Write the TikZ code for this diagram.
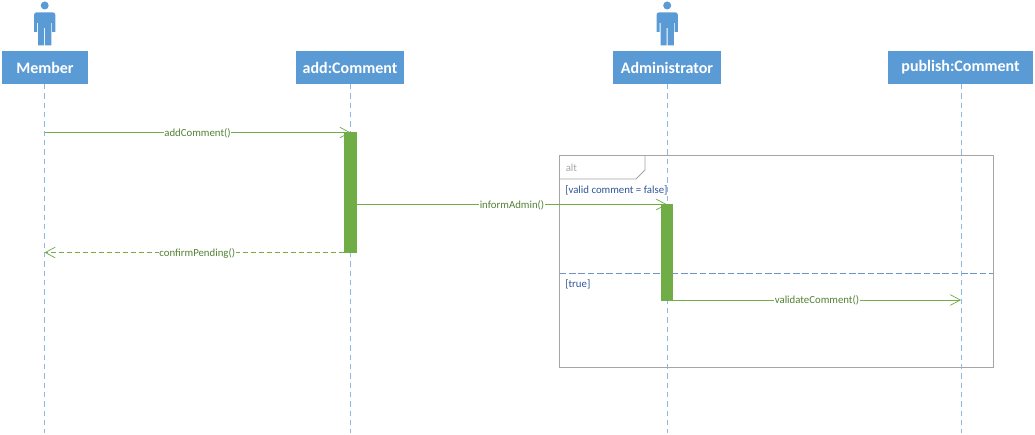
\documentclass[tikz,border=0pt]{standalone}
\usepackage{fontspec}
\setmainfont{Carlito}
\usetikzlibrary{arrows.meta}
\definecolor{hdr}{HTML}{5B9BD5}
\definecolor{life}{HTML}{8DB8E2}
\definecolor{divd}{HTML}{6C94C8}
\definecolor{grn}{HTML}{70AD47}
\definecolor{grntxt}{HTML}{538135}
\definecolor{guard}{HTML}{2F5597}
\definecolor{frm}{HTML}{A5A5A5}
\tikzset{
 x=0.75pt,y=-0.75pt,
 party/.style={fill=hdr,draw=none,text=white,font=\fontsize{12pt}{14pt}\selectfont\bfseries,minimum height=24.75pt,inner sep=0pt,anchor=center},
 lifeline/.style={draw=life,line width=0.6pt,dash pattern=on 4pt off 3pt},
 bar/.style={fill=grn,draw=none,inner sep=0pt,minimum width=9.4pt},
 msg/.style={draw=grn,line width=0.7pt,-{Straight Barb[length=7.5pt,width=8pt,line width=0.55pt]}},
 rmsg/.style={msg,dash pattern=on 3.5pt off 2.5pt},
 mlabel/.style={fill=white,text=grntxt,font=\fontsize{8.1pt}{9pt}\selectfont,inner sep=0.5pt,yshift=-0.5pt},
 guardtext/.style={text=guard,font=\fontsize{8.1pt}{9pt}\selectfont,inner sep=0pt,anchor=west},
 frametext/.style={text=frm,font=\fontsize{8.1pt}{9pt}\selectfont,inner sep=0pt,anchor=west},
 frameline/.style={draw=frm,line width=0.75pt},
 actor/.pic={
  \fill[hdr] (0,-40.5) circle (4);
  \fill[hdr] (-10.7,-31) arc (180:270:2.7) -- (8,-33.7) arc (-90:0:2.7) -- (10.7,-14) -- (7.5,-14) -- (7.5,-23) -- (6.7,-23) -- (6.7,-0.5) -- (0.5,-0.5) -- (0.5,-18) -- (-0.5,-18) -- (-0.5,-0.5) -- (-6.7,-0.5) -- (-6.7,-23) -- (-7.5,-23) -- (-7.5,-14) -- (-10.7,-14) -- cycle;
 }
}
\begin{document}
\begin{tikzpicture}
\useasboundingbox (0,0) rectangle (1035,435);
% frame
\node[draw=none,inner sep=0pt] (frameTL) at (559.5,155.5) {};
\node[draw=none,inner sep=0pt] (frameBR) at (993,367.5) {};
\draw[frameline] (frameTL.center) rectangle (frameBR.center);
\draw[frameline,line width=0.55pt] (645,155.5) -- (645,170) -- (636,179) -- (559.5,179);
\node[frametext] (alt) at (565.5,168) {alt};
\node[guardtext] (g1) at (565,190.5) {[valid comment = false]};
\node[guardtext] (g2) at (565,284.5) {[true]};
\draw[draw=divd,line width=0.6pt,dash pattern=on 5pt off 2pt] (559.5,273) -- (993,273);
% headers
\node[party,minimum width=64.5pt] (member) at (45,67.5) {Member};
\node[party,minimum width=81pt] (add) at (350,67.5) {add:Comment};
\node[party,minimum width=81pt] (admin) at (667,67.5) {Administrator};
\node[party,minimum width=108.75pt] (publish) at (960.5,67.5) {publish:Comment};
\pic at (44.7,46) {actor};
\pic at (667.2,46) {actor};
% lifeline ends
\coordinate (memberEnd) at (44.5,433);
\coordinate (addEnd) at (350.5,433);
\coordinate (adminEnd) at (667.5,433);
\coordinate (publishEnd) at (961.5,433);
\draw[lifeline] (44.5,84) -- (memberEnd);
\draw[lifeline] (350.5,84) -- (addEnd);
\draw[lifeline] (667.5,84) -- (adminEnd);
\draw[lifeline] (961.5,84) -- (publishEnd);
% message anchors
\coordinate (m1a) at (44.5,132.5);
\coordinate (m1b) at (350.5,132.5);
\coordinate (m2a) at (357,204.5);
\coordinate (m2b) at (667,204.5);
\coordinate (m3a) at (344,252.5);
\coordinate (m3b) at (44.5,252.5);
\coordinate (m4a) at (673,300);
\coordinate (m4b) at (961,300);
% messages under bars
\draw[msg] (m1a) -- node[mlabel,pos=0.5] (l1) {addComment()} (m1b);
\draw[msg] (m2a) -- node[mlabel,pos=0.5] (l2) {informAdmin()} (m2b);
% bars
\node[bar,minimum height=90.4pt] (barAdd) at (350.5,192.6) {};
\node[bar,minimum height=72.4pt] (barAdmin) at (667,252.6) {};
\draw[rmsg] (m3a) -- node[mlabel,pos=0.49] (l3) {confirmPending()} (m3b);
\draw[msg] (m4a) -- node[mlabel,pos=0.5] (l4) {validateComment()} (m4b);
\end{tikzpicture}
\end{document}
